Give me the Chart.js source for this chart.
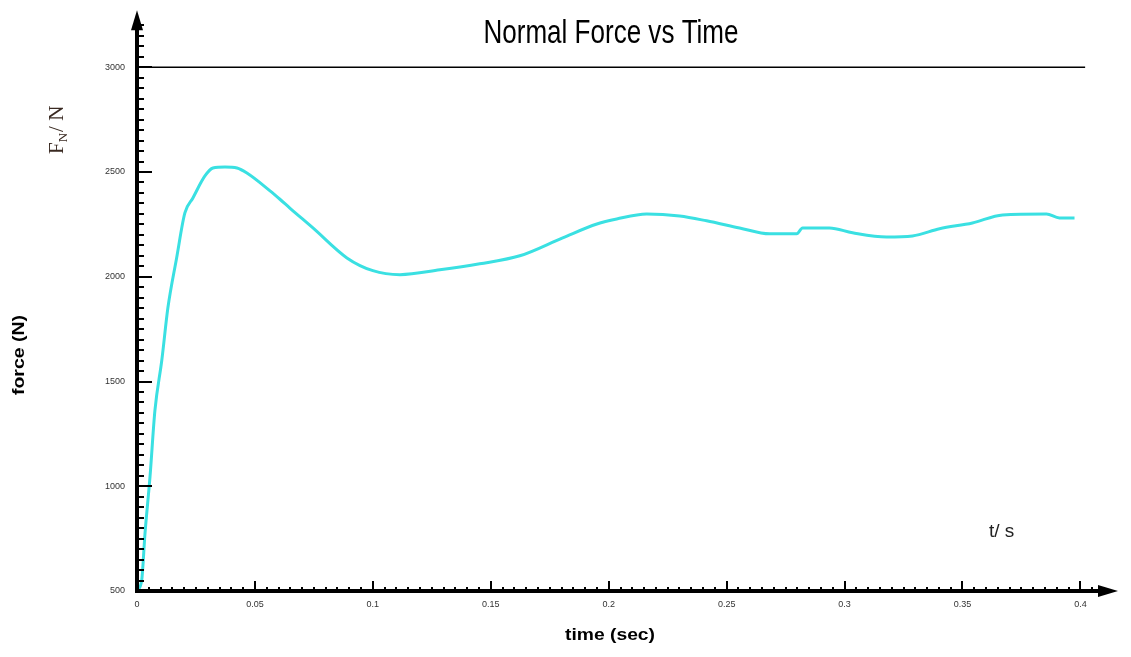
<!DOCTYPE html>
<html>
<head>
<meta charset="utf-8">
<script src="https://cdn.jsdelivr.net/npm/chart.js@4.4.1/dist/chart.umd.min.js"></script>
<style>
html,body{margin:0;padding:0;background:#fff;}
#wrap{width:1131px;height:657px;}
</style>
</head>
<body>
<div id="wrap"><canvas id="c" width="1131" height="657"></canvas></div>
<script>
// ---- data ----
const times = [0, 0.002, 0.0034, 0.0055, 0.0076, 0.0105, 0.0131, 0.0168, 0.0203, 0.0237,
  0.0288, 0.0322, 0.0373, 0.0424, 0.0466, 0.0564, 0.0606, 0.0648, 0.0746, 0.089,
  0.1, 0.1115, 0.1284, 0.1453, 0.1623, 0.1805, 0.195, 0.2034, 0.2161, 0.2301,
  0.2415, 0.2555, 0.2682, 0.2797, 0.2822, 0.2936, 0.3034, 0.3178, 0.3288, 0.3403,
  0.3542, 0.367, 0.3856, 0.3911, 0.3975];
const forces = [500, 552, 776, 1043, 1362, 1600, 1852, 2090, 2305, 2376,
  2481, 2519, 2524, 2519, 2495, 2410, 2370, 2328, 2233, 2090,
  2029, 2010, 2033, 2062, 2100, 2186, 2252, 2276, 2300, 2290,
  2267, 2233, 2205, 2205, 2233, 2233, 2210, 2190, 2195, 2229,
  2257, 2295, 2300, 2281, 2281];
const xTickValues = [0, 0.05, 0.1, 0.15, 0.2, 0.25, 0.3, 0.35, 0.4];
const yTickValues = [500, 1000, 1500, 2000, 2500, 3000];
const titleText = 'Normal Force vs Time';
const xTitle = 'time (sec)';
const yTitle = 'force (N)';
const refLineValue = 3000;

const points = times.map((t, i) => ({x: t, y: forces[i]}));

function fitText(ctx, text, cx, cy, width, rotate, baseline) {
  ctx.save();
  ctx.translate(cx, cy);
  if (rotate) ctx.rotate(-Math.PI / 2);
  const w = ctx.measureText(text).width;
  ctx.scale(width / w, 1);
  ctx.textAlign = 'center';
  ctx.textBaseline = baseline || 'middle';
  ctx.fillText(text, 0, 0);
  ctx.restore();
}

const decor = {
  id: 'decor',
  afterDatasetsDraw(chart) {
    const {ctx, scales: {x, y}} = chart;
    const x0 = x.getPixelForValue(0);
    const y0 = y.getPixelForValue(500);
    const yTip = y.getPixelForValue(3272);
    ctx.save();
    // reference line at 3000
    ctx.strokeStyle = '#000';
    ctx.lineWidth = 1.5;
    ctx.beginPath();
    const yl = y.getPixelForValue(refLineValue);
    ctx.moveTo(x0, yl);
    ctx.lineTo(x.getPixelForValue(0.402), yl);
    ctx.stroke();

    // minor / major ticks
    ctx.fillStyle = '#000';
    for (let v = 500; v <= 3200; v += 50) {
      const py = Math.round(y.getPixelForValue(v));
      const major = v % 500 === 0;
      ctx.fillRect(x0, py - 1, major ? 15 : 7, 2);
    }
    for (let k = 0; k <= 82; k++) {
      const t = k * 0.005;
      const px = Math.round(x.getPixelForValue(t));
      const major = k % 10 === 0;
      ctx.fillRect(px - 1, y0 - (major ? 10 : 4), 2, major ? 10 : 4);
    }

    // axes
    ctx.lineWidth = 4;
    ctx.beginPath();
    ctx.moveTo(x0, y0 + 2);
    ctx.lineTo(x0, yTip + 14);
    ctx.moveTo(x0 - 2, y0);
    ctx.lineTo(chart.width - 28, y0);
    ctx.stroke();
    // arrow heads
    ctx.beginPath();
    ctx.moveTo(x0, yTip);
    ctx.lineTo(x0 - 6, yTip + 20);
    ctx.lineTo(x0 + 6, yTip + 20);
    ctx.closePath();
    ctx.fill();
    ctx.beginPath();
    ctx.moveTo(chart.width - 13, y0);
    ctx.lineTo(chart.width - 33, y0 - 6);
    ctx.lineTo(chart.width - 33, y0 + 6);
    ctx.closePath();
    ctx.fill();

    // texts
    ctx.fillStyle = '#000';
    ctx.font = '34px "Liberation Sans Narrow", "Liberation Sans", Arial, sans-serif';
    fitText(ctx, titleText, 611, 43, 255, false, 'alphabetic');
    ctx.font = 'bold 16px "Liberation Sans Narrow", "Liberation Sans", sans-serif';
    fitText(ctx, xTitle, 610, 636, 90, false);
    fitText(ctx, yTitle, 20, 355, 80, true);

    // F_N / N annotation (rotated)
    ctx.save();
    ctx.translate(55, 154);
    ctx.rotate(-Math.PI / 2);
    ctx.fillStyle = '#3a2a22';
    ctx.textBaseline = 'alphabetic';
    ctx.textAlign = 'left';
    ctx.font = '21px "Liberation Serif", "DejaVu Serif", serif';
    ctx.fillText('F', 0, 8);
    let cx = ctx.measureText('F').width;
    ctx.font = '13px "Liberation Serif", "DejaVu Serif", serif';
    ctx.fillText('N', cx, 12);
    cx += ctx.measureText('N').width;
    ctx.font = '21px "Liberation Serif", "DejaVu Serif", serif';
    ctx.fillText('/ N', cx + 1, 8);
    ctx.restore();

    // t / s annotation
    ctx.fillStyle = '#222';
    ctx.font = '19px "Liberation Sans", Arial, sans-serif';
    ctx.textAlign = 'left';
    ctx.textBaseline = 'alphabetic';
    ctx.fillText('t/ s', 989, 537);
    ctx.restore();
  }
};

new Chart(document.getElementById('c'), {
  type: 'line',
  data: {
    datasets: [{
      data: points,
      borderColor: 'rgb(58, 224, 226)',
      borderWidth: 3,
      pointRadius: 0,
      cubicInterpolationMode: 'monotone',
      fill: false
    }]
  },
  options: {
    responsive: false,
    animation: false,
    devicePixelRatio: 1,
    layout: {padding: {top: 3, right: 27, left: 0, bottom: 0}},
    plugins: {legend: {display: false}, tooltip: {enabled: false}, title: {display: false}},
    scales: {
      x: {
        type: 'linear',
        min: 0,
        max: 0.41,
        grid: {display: false, drawTicks: false},
        border: {display: false},
        afterBuildTicks: s => { s.ticks = xTickValues.map(v => ({value: v})); },
        afterFit: s => { s.height = 66; },
        ticks: {
          padding: 8,
          maxRotation: 0,
          autoSkip: false,
          color: '#333',
          font: {size: 9, family: '"Liberation Sans Narrow", "Liberation Sans", sans-serif'},
          callback: v => String(Math.round(v * 100) / 100)
        }
      },
      y: {
        type: 'linear',
        min: 500,
        max: 3238,
        grid: {display: false, drawTicks: false},
        border: {display: false},
        afterBuildTicks: s => { s.ticks = yTickValues.map(v => ({value: v})); },
        afterFit: s => { s.width = 137; },
        ticks: {
          padding: 12,
          autoSkip: false,
          color: '#333',
          font: {size: 9, family: '"Liberation Sans Narrow", "Liberation Sans", sans-serif'},
          callback: v => String(v)
        }
      }
    }
  },
  plugins: [decor]
});
</script>
</body>
</html>
